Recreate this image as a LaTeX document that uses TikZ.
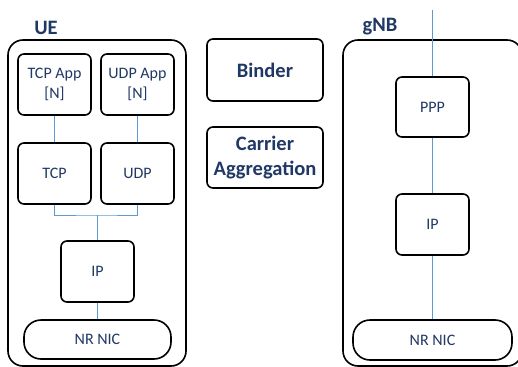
\documentclass[tikz,border=0pt]{standalone}
\usepackage{fontspec}
\setmainfont{Carlito}
\definecolor{navy}{HTML}{203864}
\definecolor{link}{HTML}{5B9BD5}
\begin{document}
\begin{tikzpicture}[x=1pt,y=-1pt,
  frame/.style={draw=black, line width=1.6pt, rounded corners=15pt, inner sep=0pt},
  layer/.style={draw=black, line width=1.6pt, rounded corners=6pt, fill=white,
    inner sep=0pt, minimum width=73pt, minimum height=61pt, align=center,
    text=navy, font=\fontsize{16}{19.5}\selectfont},
  nic/.style={layer, rounded corners=17pt, minimum height=39pt},
  feature/.style={layer, minimum width=116pt, minimum height=62pt,
    font=\bfseries\fontsize{20.5}{25}\selectfont},
  title/.style={text=navy, font=\bfseries\fontsize{20.5}{25}\selectfont, inner sep=0pt},
  wire/.style={draw=link, line width=0.9pt}]
\useasboundingbox (0,0) rectangle (518,366);

% outer frames
\node[frame, minimum width=178pt, minimum height=326pt] (ue) at (97,203) {};
\node[frame, minimum width=179pt, minimum height=326pt] (gnb) at (432.5,203) {};
\node[title] (uelabel) at (46,28) {UE};
\node[title] (gnblabel) at (380,27) {gNB};

% UE stack
\node[layer] (tcpapp) at (54.5,84.5) {TCP App\\{}[N]};
\node[layer] (udpapp) at (137.5,84.5) {UDP App\\{}[N]};
\node[layer] (tcp) at (54.5,173.5) {TCP};
\node[layer] (udp) at (137.5,173.5) {UDP};
\node[layer] (ueip) at (97.5,271.5) {IP};
\node[nic, minimum width=147pt] (uenic) at (97.5,339.5) {NR NIC};
\coordinate (join) at (97.5,215);

\draw[wire] (tcpapp) -- (tcp);
\draw[wire] (udpapp) -- (udp);
\draw[wire] (tcp.south) |- (join) -| (udp.south);
\draw[wire] (join) -- (ueip.north);
\draw[wire] (ueip) -- (uenic);

% middle features
\node[feature] (binder) at (265,70) {Binder};
\node[feature, minimum height=61pt] (ca) at (265,157.5) {Carrier\\Aggregation};

% gNB stack
\coordinate (uplink) at (432.5,10);
\node[layer, minimum height=60pt] (ppp) at (432.5,107) {PPP};
\node[layer] (gnbip) at (432.5,224.5) {IP};
\node[nic, minimum width=159pt, minimum height=40pt] (gnbnic) at (432.5,340) {NR NIC};

\draw[wire] (uplink) -- (ppp);
\draw[wire] (ppp) -- (gnbip);
\draw[wire] (gnbip) -- (gnbnic);
\end{tikzpicture}
\end{document}
